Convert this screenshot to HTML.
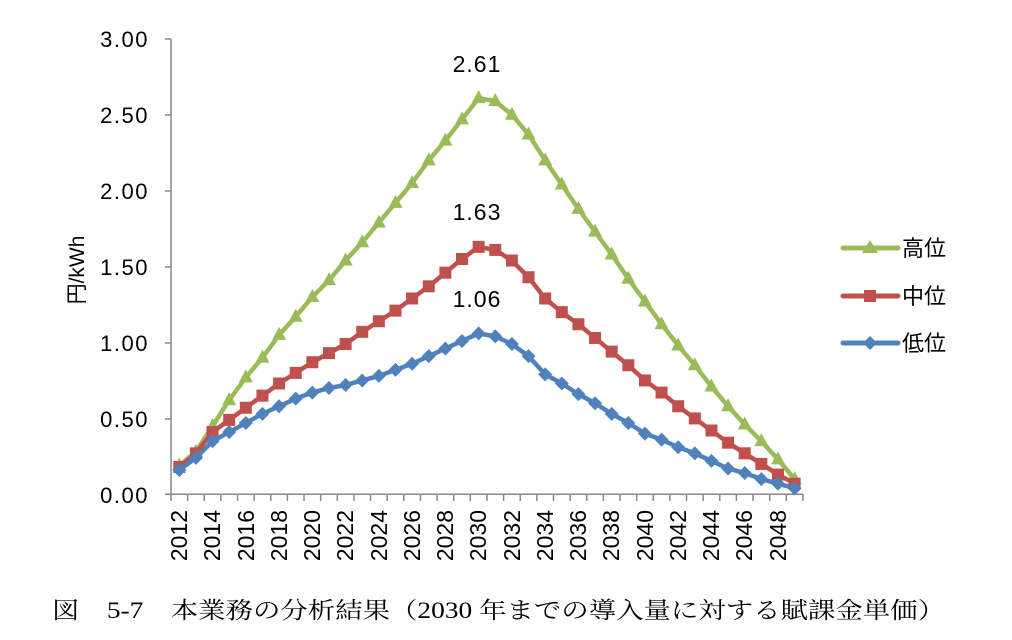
<!DOCTYPE html>
<html><head><meta charset="utf-8"><style>
html,body{margin:0;padding:0;background:#fff;width:1012px;height:640px;overflow:hidden}
svg text{font-family:"Liberation Sans","Noto Sans CJK JP",sans-serif;fill:#000}
</style></head><body>
<svg id="s" width="1012" height="640" viewBox="0 0 1012 640" xmlns="http://www.w3.org/2000/svg">
<g stroke="#888" stroke-width="1.5">
<line x1="171" y1="39" x2="171" y2="495"/>
<line x1="165" y1="494.3" x2="803" y2="494.3"/>
<line x1="165" y1="39" x2="171" y2="39"/>
<line x1="165" y1="115" x2="171" y2="115"/>
<line x1="165" y1="191" x2="171" y2="191"/>
<line x1="165" y1="267" x2="171" y2="267"/>
<line x1="165" y1="343" x2="171" y2="343"/>
<line x1="165" y1="419" x2="171" y2="419"/>
</g>
<g id="xt" stroke="#888" stroke-width="1.5"></g>
<g font-size="22" text-anchor="end" letter-spacing="1.5">
<text x="149" y="47">3.00</text>
<text x="149" y="123">2.50</text>
<text x="149" y="199">2.00</text>
<text x="149" y="275">1.50</text>
<text x="149" y="351">1.00</text>
<text x="149" y="427">0.50</text>
<text x="149" y="503">0.00</text>
</g>
<g font-size="23" text-anchor="end">
<text transform="translate(187,510) rotate(-90)">2012</text>
<text transform="translate(220,510) rotate(-90)">2014</text>
<text transform="translate(254,510) rotate(-90)">2016</text>
<text transform="translate(287,510) rotate(-90)">2018</text>
<text transform="translate(320,510) rotate(-90)">2020</text>
<text transform="translate(353,510) rotate(-90)">2022</text>
<text transform="translate(387,510) rotate(-90)">2024</text>
<text transform="translate(420,510) rotate(-90)">2026</text>
<text transform="translate(453,510) rotate(-90)">2028</text>
<text transform="translate(486,510) rotate(-90)">2030</text>
<text transform="translate(520,510) rotate(-90)">2032</text>
<text transform="translate(553,510) rotate(-90)">2034</text>
<text transform="translate(586,510) rotate(-90)">2036</text>
<text transform="translate(619,510) rotate(-90)">2038</text>
<text transform="translate(653,510) rotate(-90)">2040</text>
<text transform="translate(686,510) rotate(-90)">2042</text>
<text transform="translate(719,510) rotate(-90)">2044</text>
<text transform="translate(752,510) rotate(-90)">2046</text>
<text transform="translate(786,510) rotate(-90)">2048</text>
</g>
<text transform="translate(84,270) rotate(-90)" font-size="21" text-anchor="middle">円/kWh</text>
<g font-size="23" text-anchor="middle" letter-spacing="1">
<text x="477" y="72">2.61</text>
<text x="477" y="220">1.63</text>
<text x="477" y="307">1.06</text>
</g>
<g id="ser"></g>
<g stroke-width="5" stroke-linecap="round">
<line x1="843" y1="248" x2="898" y2="248" stroke="#9BBB59"/>
<polygon points="870,240 878,253 862,253" fill="#9BBB59"/>
<line x1="843" y1="296" x2="898" y2="296" stroke="#C0504D"/>
<rect x="864" y="290" width="12" height="12" fill="#C0504D"/>
<line x1="843" y1="343" x2="898" y2="343" stroke="#4F81BD"/>
<polygon points="870,336 877,343 870,350 863,343" fill="#4F81BD"/>
</g>
<g font-size="22">
<text x="902" y="256">高位</text>
<text x="902" y="304">中位</text>
<text x="902" y="351">低位</text>
</g>
<text x="52" y="618" font-size="23" textLength="893" lengthAdjust="spacingAndGlyphs" style="font-family:'Liberation Serif','Noto Serif CJK SC',serif">図　5-7　本業務の分析結果（2030 年までの導入量に対する賦課金単価）</text>
</svg>
<script>
var NS="http://www.w3.org/2000/svg";
var xt=document.getElementById('xt');
for(var i=0;i<=38;i++){var x=171+i*16.63;var l=document.createElementNS(NS,'line');l.setAttribute('x1',x);l.setAttribute('x2',x);l.setAttribute('y1',494);l.setAttribute('y2',501);xt.appendChild(l);}
var hi=[0.19,0.28,0.45,0.62,0.77,0.9,1.05,1.17,1.3,1.41,1.54,1.66,1.79,1.92,2.05,2.2,2.33,2.47,2.61,2.59,2.5,2.37,2.2,2.04,1.88,1.73,1.58,1.42,1.27,1.12,0.98,0.85,0.71,0.58,0.46,0.35,0.23,0.1];
var mid=[0.18,0.27,0.41,0.49,0.57,0.65,0.73,0.8,0.87,0.93,0.99,1.07,1.14,1.21,1.29,1.37,1.46,1.55,1.63,1.61,1.54,1.43,1.29,1.2,1.12,1.03,0.94,0.85,0.75,0.67,0.58,0.5,0.42,0.34,0.27,0.2,0.13,0.07];
var lo=[0.16,0.24,0.35,0.41,0.47,0.53,0.58,0.63,0.67,0.7,0.72,0.75,0.78,0.82,0.86,0.91,0.96,1.01,1.06,1.04,0.99,0.91,0.79,0.73,0.66,0.6,0.53,0.47,0.4,0.36,0.31,0.27,0.22,0.17,0.14,0.1,0.07,0.04];
var g=document.getElementById('ser');
function X(i){return 179.3+i*16.63}function Y(v){return 494.3-v*151.8}
function draw(d,c,m){var p=d.map(function(v,i){return X(i)+','+Y(v)}).join(' ');
var pl=document.createElementNS(NS,'polyline');pl.setAttribute('points',p);pl.setAttribute('fill','none');pl.setAttribute('stroke',c);pl.setAttribute('stroke-width','4.5');pl.setAttribute('stroke-linejoin','round');g.appendChild(pl);
d.forEach(function(v,i){var x=X(i),y=Y(v),e;
if(m=='t'){e=document.createElementNS(NS,'polygon');e.setAttribute('points',x+','+(y-8)+' '+(x+7)+','+(y+5)+' '+(x-7)+','+(y+5));}
else if(m=='s'){e=document.createElementNS(NS,'rect');e.setAttribute('x',x-6);e.setAttribute('y',y-6);e.setAttribute('width',12);e.setAttribute('height',12);}
else{e=document.createElementNS(NS,'polygon');e.setAttribute('points',x+','+(y-7)+' '+(x+7)+','+y+' '+x+','+(y+7)+' '+(x-7)+','+y);}
e.setAttribute('fill',c);g.appendChild(e);});}
draw(hi,'#9BBB59','t');draw(mid,'#C0504D','s');draw(lo,'#4F81BD','d');
</script>
</body></html>
